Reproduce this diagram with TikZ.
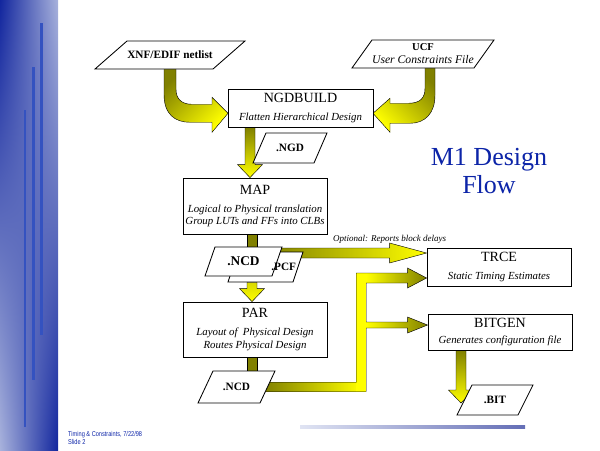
\documentclass[tikz,border=0pt]{standalone}
\usepackage{fontspec}
\setmainfont{Liberation Serif}
\newfontfamily\footfont{Liberation Sans}
\usetikzlibrary{calc,backgrounds,shadings}

\definecolor{flowdark}{RGB}{128,128,0}
\definecolor{flowlight}{RGB}{255,255,0}
\definecolor{slideblue}{RGB}{12,36,168}
\definecolor{banddark}{RGB}{18,38,158}
\definecolor{bandlight}{RGB}{168,178,220}
\definecolor{bandline}{RGB}{52,82,192}

\newcommand\sub[1]{{\normalfont\itshape\fontsize{7.7}{9.2}\selectfont #1}}

% data file: [options] name, centre, half width, half height, slant, text
\newcommand\datafile[7][]{%
  \filldraw[fileedge] ($(#3)+(-#4+#6,-#5)$) -- ($(#3)+(#4,-#5)$)
    -- ($(#3)+(#4-#6,#5)$) -- ($(#3)+(-#4,#5)$) -- cycle;
  \node[filelabel,minimum width={2*#4*0.025cm},minimum height={2*#5*0.025cm},#1] (#2) at (#3) {#7};}

% straight arrow downwards: [top colour] start, tip
\newcommand\downfat[3][flowdark]{%
  \shade[fatarrow,top color=#1,bottom color=flowlight]
    ($(#2)+(-5,0)$) -- ($(#3)+(-5,-13)$) -- ($(#3)+(-12.5,-13)$) -- (#3)
    -- ($(#3)+(12.5,-13)$) -- ($(#3)+(5,-13)$) -- ($(#2)+(5,0)$) -- cycle;}

\begin{document}
\begin{tikzpicture}[x=0.025cm,y=-0.025cm,
  process/.style={draw,fill=white,line width=0.6pt,minimum width=3.6cm,
    align=center,inner sep=1pt,font=\fontsize{10}{9.2}\selectfont},
  fileedge/.style={draw,fill=white,line width=0.6pt},
  filelabel/.style={inner sep=0pt,align=center,font=\bfseries\fontsize{8}{9}\selectfont},
  fatarrow/.style={draw=black,line width=0.3pt}]

\useasboundingbox (0,0) rectangle (600,450);

% slide frame
\shade[upper left=banddark,upper right=bandlight,lower left=bandlight,lower right=banddark]
  (0,0) rectangle (58,450);
\foreach \x/\ya/\yb/\w in {41.5/23/335/2.1pt,33.5/67/380/2.1pt,25/110/427/1.6pt}
  \draw[bandline,line width=\w] (\x,\ya) -- (\x,\yb);
\shade[left color={rgb,255:red,224;green,228;blue,243},right color={rgb,255:red,100;green,110;blue,182}]
  (300,425) rectangle (525,428);
\node[anchor=west,align=left,text=slideblue,inner sep=0pt,xscale=0.8,
  font=\footfont\fontsize{5}{4.6}\selectfont] (footer) at (68,437.5)
  {Timing \& Constraints, 7/22/98\\Slide 2};

% tools
\node[process,minimum width=3.625cm,minimum height=0.95cm] (ngdbuild) at (300.5,108)
  {NGDBUILD\\[3.6pt]\sub{Flatten Hierarchical Design}};
\node[process,minimum height=1.4cm] (map) at (255,206)
  {MAP\\[3.6pt]\sub{Logical to Physical translation}\\\sub{Group LUTs and FFs into CLBs}};
\node[process,minimum height=1.375cm] (par) at (255,329.5)
  {PAR\\[3.6pt]\sub{Layout of\ \ Physical Design}\\\sub{Routes Physical Design}};
\node[process,minimum height=0.95cm] (trce) at (499,267)
  {TRCE\\[3.6pt]\sub{Static Timing Estimates}};
\node[process,minimum height=0.9cm] (bitgen) at (500,332)
  {BITGEN\\[2.2pt]\sub{Generates configuration file}};

% files
\datafile{xnf}{170,55}{75}{14}{32}{XNF/EDIF netlist}
\datafile{ucf}{423,54}{71}{14}{20}{{\fontsize{7.5}{9}\selectfont UCF}\\[0.3pt]{\normalfont\itshape\fontsize{8.3}{9}\selectfont User Constraints File}}
\datafile{ngd}{290,148}{37}{15}{13}{.NGD}
\datafile{pcf}{265.5,267}{37.5}{15}{10}{}
\datafile[font=\bfseries\fontsize{9.5}{10}\selectfont]{ncd1}{243.5,261.5}{38.5}{14.5}{10}{.NCD}
\node[filelabel,anchor=east] (pcf-name) at ($(pcf.east)+(-7,0)$) {.PCF};
\datafile{ncd2}{236.5,387}{38.5}{16}{15}{.NCD}
\datafile{bit}{495,400}{38}{15}{15}{.BIT}

\node[text=slideblue,align=center,font=\fontsize{18.5}{20}\selectfont] (flowtitle) at (489,171)
  {M1 Design\\Flow};

% arrows
\coordinate (g2) at ($(trce.west)+(0,-14)$);
\coordinate (g1) at (pcf.center |- g2);
\node[inner sep=0pt,font=\itshape\fontsize{6.4}{7}\selectfont] (optional) at ($(g2)+(-37,-14)$)
  {Optional: Reports block delays};

\begin{scope}[on background layer]
\begin{scope}[shift={(xnf.south)}]
  \shade[fatarrow,top color=flowdark,bottom color=flowlight,shading angle=45]
    (-6,-1) -- (-6,25) .. controls (-6,45) and (5,53) .. (20,53) -- (42,53) -- (42,63)
    -- (58,44) -- (42,28) -- (42,35) -- (22,35) .. controls (12,35) and (6,30) .. (6,20)
    -- (6,-1) -- cycle;
\end{scope}
\begin{scope}[shift={($(ucf.south)+(7,0)$)}]
  \shade[fatarrow,top color=flowdark,bottom color=flowlight,shading angle=-45]
    (5,-1) -- (5,27) .. controls (5,45) and (-5,55) .. (-20,55) -- (-40,55) -- (-40,64)
    -- (-57,45) -- (-40,30) -- (-40,35) -- (-22,35) .. controls (-10,35) and (-5,30) .. (-5,20)
    -- (-5,-1) -- cycle;
\end{scope}

\coordinate (c1) at ($(map.north)+(-5,0)$);
\downfat{c1 |- ngdbuild.south}{c1}
\filldraw[fatarrow,fill=flowdark] ($(map.south)+(-8,0)$) rectangle ($(map.south |- ncd1.north)+(2,2)$);
\coordinate (e1) at ($(par.north)+(-3,0)$);
\downfat[flowlight!70!flowdark]{e1 |- pcf.south}{e1}
\filldraw[fatarrow,fill=flowdark] ($(par.south)+(-8,0)$) rectangle ($(par.south |- ncd2.north)+(2,2)$);
\coordinate (b1) at ($(bitgen.south)+(-39,0)$);
\coordinate (b2) at ($(b1 |- bit.west)+(0,3)$);
\downfat{b1}{b2}

\shade[fatarrow,left color=flowdark,right color=flowlight]
  ($(g1)+(0,-5)$) -- ($(g2)+(-37,-5)$) -- ($(g2)+(-37,-10)$) -- (g2)
  -- ($(g2)+(-37,10)$) -- ($(g2)+(-37,5)$) -- ($(g1)+(0,5)$) -- cycle;

\coordinate (h0) at ($(ncd2.east)+(-12,0)$);
\coordinate (h1) at ($(trce.west)+(0,11)$);
\coordinate (h2) at ($(bitgen.west)+(0,-7)$);
\coordinate (hb) at ($(ncd2.east)+(86,0)$);
\coordinate (ht) at (hb |- h1);
\coordinate (hm) at (hb |- h2);
\shade[left color=flowdark,right color=flowlight] ($(h0)+(0,-4.5)$) rectangle ($(hb)+(0,4.5)$);
\fill[flowlight] ($(ht)+(-5,-5)$) rectangle ($(hb)+(5,4.5)$);
\shade[left color=flowlight,right color=flowdark]
  ($(ht)+(5,-5)$) -- ($(h1)+(-19,-5)$) -- ($(h1)+(-19,-10)$) -- (h1)
  -- ($(h1)+(-19,10)$) -- ($(h1)+(-19,5)$) -- ($(ht)+(5,5)$) -- cycle;
\shade[left color=flowlight,right color=flowdark]
  ($(hm)+(5,-3)$) -- ($(h2)+(-20,-3)$) -- ($(h2)+(-20,-8)$) -- (h2)
  -- ($(h2)+(-20,8)$) -- ($(h2)+(-20,3)$) -- ($(hm)+(5,3)$) -- cycle;
\draw[fatarrow] ($(h0)+(0,4.5)$) -- ($(hb)+(5,4.5)$) -- ($(hm)+(5,3)$) -- ($(h2)+(-20,3)$)
  -- ($(h2)+(-20,8)$) -- (h2) -- ($(h2)+(-20,-8)$) -- ($(h2)+(-20,-3)$) -- ($(hm)+(5,-3)$)
  -- ($(ht)+(5,5)$) -- ($(h1)+(-19,5)$) -- ($(h1)+(-19,10)$) -- (h1) -- ($(h1)+(-19,-10)$)
  -- ($(h1)+(-19,-5)$) -- ($(ht)+(-5,-5)$) -- ($(hb)+(-5,-4.5)$) -- ($(h0)+(0,-4.5)$) -- cycle;
\end{scope}

\end{tikzpicture}
\end{document}
